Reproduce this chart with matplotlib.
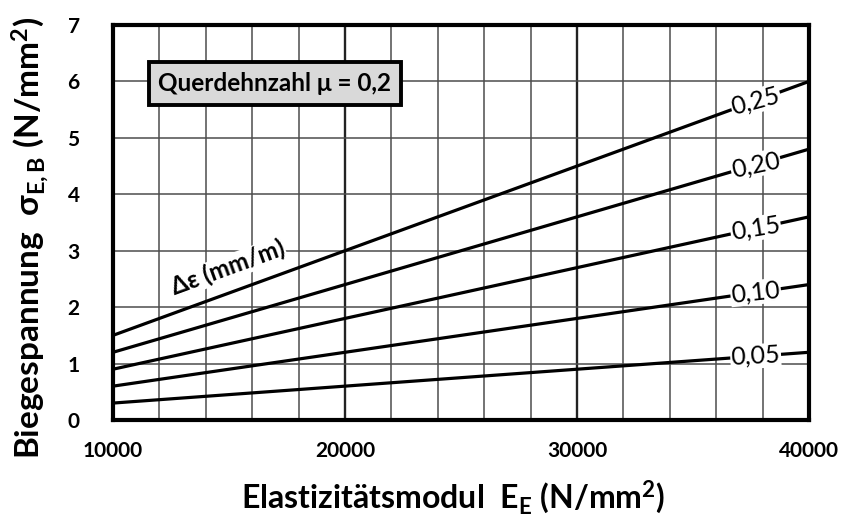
import matplotlib
matplotlib.use("Agg")
import matplotlib.pyplot as plt
import numpy as np

plt.rcParams['font.family'] = ['Lato', 'DejaVu Sans']
plt.rcParams['mathtext.fontset'] = 'custom'
plt.rcParams['mathtext.rm'] = 'Lato:bold'
plt.rcParams['mathtext.bf'] = 'Lato:bold'
plt.rcParams['mathtext.it'] = 'Lato:italic'

# Data
E_values = [10000, 20000, 30000, 40000]
strain_labels = ["0,05", "0,10", "0,15", "0,20", "0,25"]
sigma_005 = [0.3, 0.6, 0.9, 1.2]
sigma_010 = [0.6, 1.2, 1.8, 2.4]
sigma_015 = [0.9, 1.8, 2.7, 3.6]
sigma_020 = [1.2, 2.4, 3.6, 4.8]
sigma_025 = [1.5, 3.0, 4.5, 6.0]
series = [sigma_005, sigma_010, sigma_015, sigma_020, sigma_025]
x_ticks = [10000, 20000, 30000, 40000]
y_ticks = [0, 1, 2, 3, 4, 5, 6, 7]

fig = plt.figure(figsize=(8.48, 5.22), dpi=100)
ax = fig.add_axes([113/848, 1-420/522, (809-113)/848, (420-25)/522])
ax.set_xlim(10000, 40000)
ax.set_ylim(0, 7)

# grid
for xv in range(12000, 40000, 2000):
    major = xv in (20000, 30000)
    ax.axvline(xv, color='#222222' if major else '#4d4d4d', lw=1.7 if major else 1.1, zorder=1)
for yv in range(1, 7):
    ax.axhline(yv, color='#4d4d4d', lw=1.1, zorder=1)

label_x = 37700
for vals, lab in zip(series, strain_labels):
    ax.plot(E_values, vals, color='black', lw=2.3, zorder=3, solid_capstyle='butt')
    yl = np.interp(label_x, E_values, vals)
    p1 = ax.transData.transform((E_values[0], vals[0]))
    p2 = ax.transData.transform((E_values[-1], vals[-1]))
    ang = np.degrees(np.arctan2(p2[1]-p1[1], p2[0]-p1[0]))
    ax.text(label_x, yl, lab, fontsize=18, ha='center', va='center', rotation=ang*0.75,
            rotation_mode='anchor', zorder=4,
            bbox=dict(facecolor='white', edgecolor='none', pad=0.5))

# delta epsilon label
p1 = ax.transData.transform((E_values[0], sigma_025[0]))
p2 = ax.transData.transform((E_values[-1], sigma_025[-1]))
ang = np.degrees(np.arctan2(p2[1]-p1[1], p2[0]-p1[0]))
ax.text(14950, 2.70, "Δε (mm/m)", fontsize=17.5, fontweight='bold', ha='center', va='center',
        rotation=ang, rotation_mode='anchor', zorder=4,
        bbox=dict(facecolor='white', edgecolor='none', pad=0.5))

# mu box
ax.text(16980, 5.96, "Querdehnzahl μ = 0,2", fontsize=17.5, fontweight='bold', ha='center', va='center',
        zorder=5, bbox=dict(facecolor='#d9d9d9', edgecolor='black', linewidth=2.8, pad=7))

for s in ax.spines.values():
    s.set_linewidth(3.0)
    s.set_color('black')
    s.set_zorder(6)

ax.set_xticks(x_ticks)
ax.set_yticks(y_ticks)
ax.tick_params(axis='both', length=0, labelsize=15)
ax.tick_params(axis='x', pad=15)
ax.tick_params(axis='y', pad=24)
for t in ax.get_xticklabels() + ax.get_yticklabels():
    t.set_fontweight('bold')

ax.set_xlabel(r"Elastizitätsmodul  E$_{\mathrm{E}}$ (N/mm$^{\mathrm{2}}$)", fontsize=23,
              fontweight='bold')
ax.set_ylabel(r"Biegespannung  σ$_{\mathrm{E,B}}$ (N/mm$^{\mathrm{2}}$)", fontsize=24,
              fontweight='bold')
ax.xaxis.set_label_coords((453 - 113) / 696, (420 - 497) / 395)
ax.yaxis.set_label_coords((30 - 113) / 696, (420 - 238) / 395)
ax.xaxis.label.set_va('center')
ax.yaxis.label.set_va('center')

fig.savefig("out.png", dpi=100)
